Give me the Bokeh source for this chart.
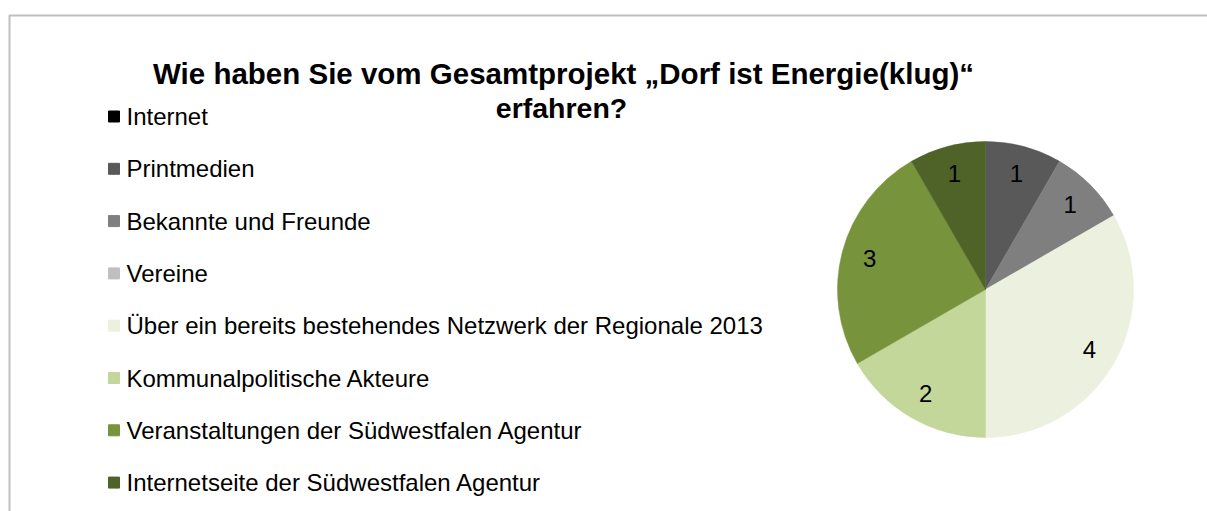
import math
from bokeh.plotting import figure
from bokeh.models import Range1d, ColumnDataSource
from bokeh.embed import file_html
from bokeh.resources import INLINE
from bokeh.core.properties import value

categories = [
    "Internet",
    "Printmedien",
    "Bekannte und Freunde",
    "Vereine",
    "Über ein bereits bestehendes Netzwerk der Regionale 2013",
    "Kommunalpolitische Akteure",
    "Veranstaltungen der Südwestfalen Agentur",
    "Internetseite der Südwestfalen Agentur",
]
counts = [0, 1, 1, 0, 4, 2, 3, 1]
colors = ["#000000", "#595959", "#7F7F7F", "#BFBFBF",
          "#EBF1DE", "#C4D79B", "#77933C", "#4F6228"]
title_lines = ["Wie haben Sie vom Gesamtprojekt „Dorf ist Energie(klug)“", "erfahren?"]

W, H = 1207, 511
FONT = "Liberation Sans"

p = figure(width=W, height=H, x_range=Range1d(0, W), y_range=Range1d(0, H),
           output_backend="svg", toolbar_location=None, min_border=0,
           x_axis_location=None, y_axis_location=None)
p.grid.visible = False
p.outline_line_color = None
p.background_fill_color = "white"

# chart area border
p.quad(left=[9], right=[W + 10], top=[H - 15], bottom=[-10],
       fill_color=None, line_color="#BFBFBF", line_width=2)

# title
p.text(x=[563, 561], y=[H - 73, H - 107], text=title_lines,
       text_font=value(FONT), text_font_style="bold",
       text_font_size=["29.5px", "28.5px"],
       text_align="center", text_baseline="alphabetic", text_color="black")

# pie
cx, cy, R = 985, H - 289, 148
total = sum(counts)
starts, ends, lx, ly, lt, cols = [], [], [], [], [], []
cum = 0
for c, col in zip(counts, colors):
    a0 = math.pi / 2 - 2 * math.pi * cum / total
    cum += c
    a1 = math.pi / 2 - 2 * math.pi * cum / total
    if c > 0:
        starts.append(a1)
        ends.append(a0)
        cols.append(col)
        mid = (a0 + a1) / 2
        lx.append(cx + 0.81 * R * math.cos(mid))
        ly.append(cy + 0.81 * R * math.sin(mid))
        lt.append(str(c))
src = ColumnDataSource(dict(s=starts, e=ends, c=cols))
p.wedge(x=cx, y=cy, radius=R, start_angle="s", end_angle="e",
        fill_color="c", line_color="c", line_width=0.5, source=src)
p.text(x=lx, y=ly, text=lt, text_font=value(FONT), text_font_size="24px",
       text_align="center", text_baseline="middle", text_color="black")

# legend
ys = [H - (116 + 52.3 * i) for i in range(len(categories))]
p.scatter(x=[113.5] * len(categories), y=ys, marker="square", size=11,
          fill_color=colors, line_color=colors)
p.text(x=[126] * len(categories), y=ys, text=categories,
       text_font=value(FONT), text_font_size="24px",
       text_align="left", text_baseline="middle", text_color="black")

open("out.html", "w").write(file_html(p, INLINE))
